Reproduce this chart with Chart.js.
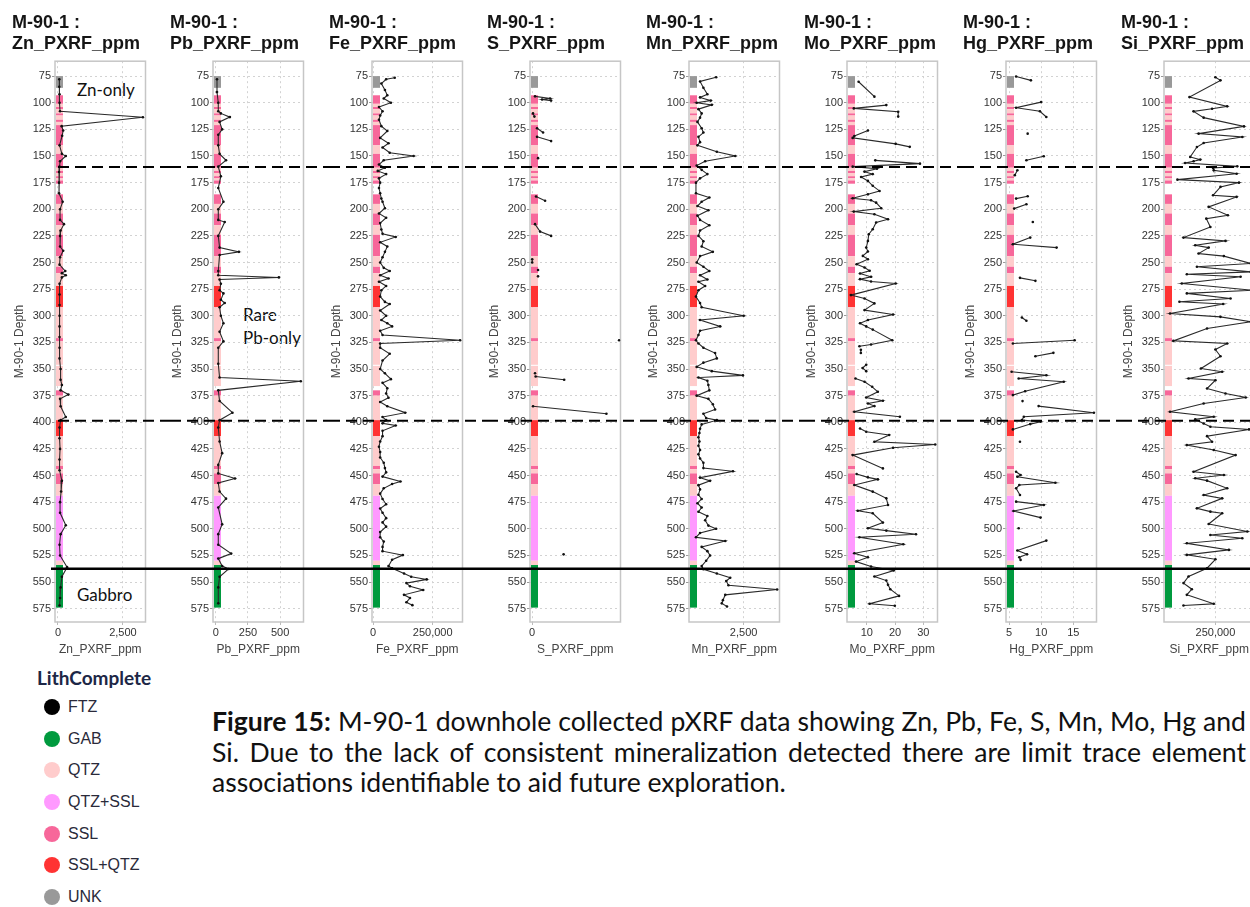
<!DOCTYPE html>
<html>
<head>
<meta charset="utf-8">
<script src="https://cdn.jsdelivr.net/npm/chart.js@4.4.1/dist/chart.umd.min.js"></script>
<style>
html,body{margin:0;padding:0;background:#fff;}
body{width:1250px;height:907px;overflow:hidden;position:relative;}
canvas.panel{position:absolute;top:0;}
.note{position:absolute;font-family:Lato,"Open Sans",sans-serif;font-size:17px;color:#111;line-height:20px;white-space:nowrap;}
#legendTitle{position:absolute;left:37px;top:666px;font-family:Lato,sans-serif;font-weight:bold;font-size:19px;color:#1d2746;line-height:24px;}
#legendRows{position:absolute;left:44px;top:691px;}
.lrow{height:31.7px;display:flex;align-items:center;font-family:"Liberation Sans",Arial,sans-serif;font-size:16px;color:#2a2a3a;}
.ldot{width:16px;height:16px;border-radius:50%;margin-right:8px;}
#caption{position:absolute;left:212px;top:706px;width:1034px;font-family:Lato,sans-serif;color:#111;font-size:20px;}
.cl{height:30.5px;line-height:30.5px;}
.cj{text-align:justify;text-align-last:justify;}
.probe{display:inline-block;white-space:nowrap;}
</style>
</head>
<body>
<div class="note" style="left:77px;top:80px;">Zn-only</div>
<div class="note" style="left:243px;top:305px;">Rare</div>
<div class="note" style="left:243px;top:328px;">Pb-only</div>
<div class="note" style="left:77px;top:585px;">Gabbro</div>
<div id="legendTitle">LithComplete</div>
<div id="legendRows"></div>
<div id="caption">
  <div class="cl cj"><span class="probe"><b>Figure 15:</b> M-90-1 downhole collected pXRF data showing Zn, Pb, Fe, S, Mn, Mo, Hg and</span></div>
  <div class="cl cj"><span class="probe">Si. Due to the lack of consistent mineralization detected there are limit trace element</span></div>
  <div class="cl"><span class="probe">associations identifiable to aid future exploration.</span></div>
</div>
<script>
// ---------------- DATA ----------------
const wellName = 'M-90-1';
const depthTicks = [75,100,125,150,175,200,225,250,275,300,325,350,375,400,425,450,475,500,525,550,575];

const znDepth = [78,85,92,100,108,113.6,122,126,131,140,
 148,150,155,160,165,175,185,193,200,210,
 214,220,225,235,239,245,252,258,260,262,
 264,270,280,290,300,310,320,330,340,350,
 360,365,370,374,378,385,395,398,405,415,
 425,435,445,455,465,475,485,496.6,505,515,
 525,536,545,555,565,572];
const znValue = [50,50,60,60,80,3270,140,200,160,60,
 150,300,80,60,40,40,40,180,80,80,
 230,100,80,80,200,80,60,280,150,300,
 150,60,60,60,60,60,60,60,60,100,
 100,150,100,400,80,100,300,100,60,60,
 80,60,60,150,120,80,80,300,100,60,
 80,350,150,100,80,60];

const pbDepth = [78,90,100,108,110,113.5,118,125,130,140,
 148,154,160,169,180,193,200,210,212,225,
 236,240,243,258,262,264,266,270,276,279,
 285,288,292,300,307,315,324,330,345,358,
 361.5,370,380,391,398,405,418,429,440,448,
 452.8,457,465,471.7,480,495.8,505,515,523.3,528,
 535,537.7,545,555,570];
const pbValue = [10,10,20,20,40,110,30,50,20,20,
 30,80,20,40,20,60,20,20,70,20,
 30,180,30,20,20,490,30,40,30,60,
 40,70,30,40,60,30,60,20,20,30,
 660,20,30,130,30,20,30,50,20,20,
 150,20,30,80,20,50,20,20,120,20,
 50,100,30,20,20];

const feDepth = [76.5,78,82,88,93,96,100,104,108,112,
 116,122,126.5,133,138,142,147,150,154,158,
 161,164,167,171,175,180,185,190,193,199,
 204,208,213,219,223,226,231,235,240,245,
 250,255,258,262,265,268,272,276,282,287,
 289,295,300,304,307,310,314,318,323,326,
 330,335.7,342,350,354,359.5,363,368,373,377,
 381,385,391,395,398,401,403,408,413,418,
 423,428,433,438,443,447,451,455.6,458,462,
 467,472,477,481,485,490,494,498,503,508,
 512,517,521,524.7,529,535,537,542,545,547.5,
 551,554,557.5,562,565,569,571.7];
const feValue = [91000,55000,35000,50000,60000,45000,75000,25000,40000,30000,
 25000,35000,60000,30000,65000,40000,70000,170000,45000,25000,
 50000,20000,55000,25000,30000,25000,30000,35000,40000,50000,
 25000,55000,30000,35000,40000,95000,30000,60000,50000,40000,
 30000,45000,70000,30000,65000,25000,55000,35000,30000,50000,
 70000,30000,55000,35000,60000,80000,30000,40000,365000,30000,
 30000,70000,40000,30000,50000,75000,40000,60000,55000,65000,
 30000,60000,135000,40000,55000,40000,95000,40000,40000,30000,
 25000,30000,30000,45000,50000,55000,40000,115000,80000,45000,
 30000,40000,55000,30000,40000,55000,40000,55000,30000,30000,
 45000,40000,40000,125000,80000,65000,80000,130000,160000,225000,
 140000,155000,210000,130000,155000,140000,165000];

const sDepth = [94,96,97,98,99, 110,113,114, 124,128,129, 132,136,137, 152,153,
 188,192,193, 214,221,225,226, 247,250,251, 257,258, 263,264, 323,324,
 354,355, 357,360,361, 385,392,393, 524];
const sValue = [1500,9000,5000,9500,null, 500,1200,null, 2500,5500,null, 2500,9500,null, 3000,null,
 2000,6500,null, 1500,4000,9500,null, 100,100,null, 3000,null, 3000,null, 43300,null,
 1500,null, 1800,16000,null, 500,37000,null, 15700];

const mnDepth = [76,80,86,92,95,98,100,102,106,110,
 114,118,124,128,132,137,140,146,150,155,
 159,163,167,171,175,185,189,193,197,201,
 206,210,215,220,225,230,235,240,244,250,
 254,258,262,266,268,272,276,282,288,292,
 300,304,310,314,318,323,326,330,335,340,
 344,348,352,356,358,361,365,370,375,378,
 383,388,392,396,398,402,406,410,414,418,
 422,426,430,434,438,443,446,452,455,459,
 463,468,472,476,480,484,488,492,497,500,
 504,508,511.4,517,521,525,530,535,538,542,
 546,549,553,557,562,567,570,573];
const mnValue = [1394,745,880,1040,745,1177,610,1218,680,810,
 745,640,810,880,680,745,640,1420,2163,950,
 610,810,1040,745,580,580,1120,810,640,1080,
 640,745,1120,745,680,880,810,1260,745,610,
 880,1120,745,1040,680,950,680,580,745,810,
 2500,745,1555,745,680,580,680,880,1350,1420,
 880,610,1218,2474,680,1040,1080,1120,610,1080,
 1260,1350,880,990,1420,810,745,720,680,720,
 680,745,680,745,880,880,2070,745,1150,680,
 745,680,810,640,810,680,1040,950,1080,1390,
 745,580,1760,810,1040,1150,990,810,880,1420,
 1960,1800,1890,3850,1760,1665,1620,1830];

const moDepth = [80.3,94.3,98,
 102.2,105.3,108.4,113,120,
 126,131.3,133,138.6,141.4,148,
 154.1,157.2,160,161.9,164.7,167,169.7,173.4,178,182.8,
 186,189.7,191.6,193.8,199,202.2,204.7,209.4,212.5,218.8,
 223.4,229.7,236,239.7,243.8,246.9,251.6,254.7,257.8,260.3,
 263.4,265.6,267.8,269.7,280.6,283.8,288.4,294.7,298.8,304,
 307,310,313,323,327,328.6,330,
 332,335,340,
 346,349,352,355,
 358.9,362,366.7,371.4,376.7,379.8,382.3,384.8,390.1,394.8,400,
 405.8,408.9,412,418.3,420.8,423.9,430.8,443.3,446,
 448.6,451.7,453.6,458.9,465.1,471.4,477.6,483,485.4,494.2,
 499.5,501.7,505.1,508,514.5,523,526.7,530.8,535.4,539.2,
 544.8,548.6,552.6,556.7,563,570.4,572.3];
const moValue = [7.1,12.7,null,
 16.9,5.4,21.1,21.1,null,
 10.4,5.6,5.0,20.2,25.2,null,
 13.0,28.8,5.0,13.6,9.2,12.1,8.0,10.4,12.1,14.5,
 10.4,5.0,11.5,13.3,15.1,5.4,12.7,17.5,13.3,12.1,
 10.7,10.4,9.8,10.4,8.6,10.4,6.4,9.2,11,7.6,
 11.5,7.6,11.5,20.2,4.4,9.2,12.7,9.2,19.3,10.4,
 7.6,9.8,12.1,19.0,11.5,7.4,null,
 7.9,7.9,null,
 9.8,8.5,9.8,null,
 6.0,9.2,11.9,13.9,9.8,15.7,10.4,12.7,5.6,21.7,null,
 7.6,9.8,17.9,12.7,34.2,19.3,5.0,15.7,null,
 6.4,10.4,13.9,5.6,12.1,16.9,17.5,6.8,12.1,15.7,
 10.4,16.9,27.4,7.4,22.9,5.6,10.4,6.2,11.5,19.5,
 12.7,16.9,17.5,18.3,21.4,11,19.9];

const hgDepth = [75.3,79,82,
 99.4,104.7,108,113.4,118,
 129,131,
 150.3,154,157,
 163.4,168,172,
 187.8,190,192,
 195.3,199.4,205,
 211.9,215,
 226.6,232.8,236,240,
 264.4,267.2,270,
 301.6,304.7,310,
 323,326,330,
 334.8,338,342,
 352.6,355.8,358.9,362,370.8,374.5,377,
 380.1,382,
 384.8,391.1,394.8,398,399.5,401.7,406.7,410,
 418.3,422,
 446.4,449.5,451.1,456.7,458.9,462,468.3,472,
 474.5,477.6,483.3,489.5,494,
 499.5,503,
 511.1,520.4,523.9,526.7,529.2];
const hgValue = [6.1,8.4,null,
 10,6.1,9.8,10.8,null,
 7.9,null,
 10.4,7.7,null,
 6.3,5.9,null,
 7.9,6.1,null,
 7.7,5.8,null,
 8.7,null,
 8.3,5.6,12.4,null,
 6.7,9.1,null,
 7,7.7,null,
 15.2,5.6,null,
 11.9,9.1,null,
 5.4,10.8,6.5,13.5,7.5,5.6,null,
 7.1,null,
 9.6,18.2,7.3,7.0,9.9,8.3,5.6,null,
 6.7,null,
 6.1,6.8,6.3,12.2,6.6,6.1,6.7,null,
 6.1,10.4,5.7,9.9,null,
 6.5,null,
 10.8,6.3,7.8,6.6,6.8];

const siDepth = [76,79,94.7,103.4,105.6,108.1,114,122.2,129,132.2,
 137.8,141.6,150.9,153.4,155,156.6,159.7,161.3,163.4,166.6,
 172.2,175,179,186.9,188.4,197.8,205.6,208.8,216.6,226.6,
 229.7,233.8,236,241.6,244,250.9,254,258.8,261,263.4,
 269.7,276,279,283.8,286.9,289,297.8,301,305.6,312,
 323.6,326,331.7,338,349.5,352.6,358.9,360.5,368.3,373,
 376.7,382.3,390.1,394.8,397.3,401.1,404.2,406.7,413,418.3,
 421.4,426,430.8,446.4,449.5,452.6,454.8,462,468.3,471.4,
 480.8,483.9,485.4,495.5,502.6,505.8,508.9,513.6,519.8,524.5,
 528.6,537,544.8,551,556.7,562,570.4,572];
const siValue = [250000,259800,199600,272900,243500,207500,227100,305600,217300,302300,
 227100,214000,201000,220600,207500,191100,292500,245400,246700,291200,
 176100,295800,259800,245400,291200,236900,274200,232300,240200,187900,
 269600,210800,236900,217300,266400,318700,214000,318700,194400,299000,
 184600,322000,194400,279400,180000,265000,161700,259800,318700,233700,
 168200,272900,250000,259800,221900,263100,197700,250000,233700,269600,
 308900,227100,161700,246700,210800,227100,240200,315400,233700,243500,
 194400,246700,289200,207500,266400,210800,233700,272900,227100,263100,
 214000,240200,263100,236900,312100,240200,302300,194400,276200,194400,
 250000,233700,197700,187900,204200,194400,246700,187900];

// Lithology intervals (top depth, bottom depth, code)
const lithTop    = [75,93,101,104,106,110,112,116,118,121,140,148,161,164,166,169,171,173,186,195,204,215,224,244,254,260,272,292,321,324,347,370,375,398,413,441,444,448,458,469,530,534];
const lithBottom = [86,101,104,106,110,112,116,118,121,140,148,161,164,166,169,171,173,176,195,204,215,224,244,254,260,272,292,321,324,346,366,375,398,413,441,444,448,458,469,530,534,574];
const lithCode   = ['UNK','SSL','QTZ','SSL','QTZ','SSL','QTZ','SSL','QTZ','SSL','QTZ','SSL','QTZ','SSL','QTZ','SSL','QTZ','SSL','SSL','QTZ','SSL','QTZ','SSL','QTZ','SSL','QTZ','SSL+QTZ','QTZ','SSL','QTZ','QTZ','SSL','QTZ','SSL+QTZ','QTZ','SSL','QTZ','SSL','QTZ','QTZ+SSL','QTZ','GAB'];

const lithNames  = ['FTZ','GAB','QTZ','QTZ+SSL','SSL','SSL+QTZ','UNK'];
const lithColors = ['#000000','#009a3e','#ffcccc','#ff99ff','#f7679a','#ff3333','#999999'];

// Marker depths (dashed, dashed, solid)
const refDepths = [160.4, 398.6, 537.5];
const refKinds  = ['dash','dash','solid'];

const elements = ['Zn','Pb','Fe','S','Mn','Mo','Hg','Si'];
const seriesDepth = [znDepth,pbDepth,feDepth,sDepth,mnDepth,moDepth,hgDepth,siDepth];
const seriesValue = [znValue,pbValue,feValue,sValue,mnValue,moValue,hgValue,siValue];
const axisMin  = [-115,-21,-4200,-1000,300,3,4.53,150000];
const axisMax  = [3370,681,375000,44000,3944,35,18.6,326000];
const xTicks   = [[0,2500],[0,250,500],[0,250000],[0],[2500],[10,20,30],[5,10,15],[250000]];

// ---------------- DRAWING ----------------
const FONT = '"Liberation Sans", Arial, sans-serif';
Chart.defaults.font.family = FONT;

const framePlugin = {
  id: 'frame',
  beforeDatasetsDraw(chart) {
    const {ctx, chartArea: a, scales: {y}} = chart;
    ctx.save();
    ctx.strokeStyle = '#c6c6c6';
    ctx.lineWidth = 1.5;
    ctx.strokeRect(a.left, a.top, a.right - a.left, a.bottom - a.top);
    lithTop.forEach((t, k) => {
      const y1 = y.getPixelForValue(t), y2 = y.getPixelForValue(lithBottom[k]);
      ctx.fillStyle = lithColors[lithNames.indexOf(lithCode[k])];
      ctx.fillRect(a.left + 1, y1, 7, y2 - y1);
    });
    ctx.restore();
  }
};

const refPlugin = {
  id: 'refLines',
  afterDraw(chart, args, opts) {
    const {ctx, chartArea: a, scales: {y}} = chart;
    refDepths.forEach((d, k) => {
      const py = y.getPixelForValue(d);
      const solid = refKinds[k] === 'solid';
      const x0 = opts.first ? a.left + (solid ? -4 : 3) : 0;
      ctx.save();
      ctx.strokeStyle = '#000';
      ctx.lineWidth = solid ? 2.4 : 2;
      ctx.setLineDash(solid ? [] : [11, 6]);
      ctx.beginPath();
      ctx.moveTo(x0, py);
      ctx.lineTo(chart.width, py);
      ctx.stroke();
      ctx.restore();
    });
  }
};

const AXIS_W = 43, BOX_W = 90.5, CANVAS_H = 660;
elements.forEach((el, i) => {
  const left = Math.round(12 + 158.47 * i);
  const nextLeft = i < elements.length - 1 ? Math.round(12 + 158.47 * (i + 1)) : left + 160;
  const width = nextLeft - left;
  const cv = document.createElement('canvas');
  cv.className = 'panel';
  cv.width = width; cv.height = CANVAS_H;
  cv.style.left = left + 'px';
  cv.style.width = width + 'px'; cv.style.height = CANVAS_H + 'px';
  document.body.appendChild(cv);
  const label = el + '_PXRF_ppm';
  const pts = seriesDepth[i].map((d, k) => ({x: seriesValue[i][k], y: d}));
  new Chart(cv.getContext('2d'), {
    type: 'scatter',
    data: {datasets: [{
      data: pts, showLine: true, spanGaps: false,
      borderColor: '#2a2a2a', borderWidth: 1.1,
      pointRadius: 1.3, pointBorderWidth: 0, pointBackgroundColor: '#111'
    }]},
    options: {
      responsive: false, animation: false, devicePixelRatio: 1,
      events: [],
      layout: {padding: {left: 0, right: width - AXIS_W - BOX_W, top: 0, bottom: 0}},
      plugins: {
        legend: {display: false}, tooltip: {enabled: false},
        title: {display: true, text: [wellName + ' :', label], align: 'start',
          color: '#151515', font: {family: FONT, size: 18, weight: 'bold', lineHeight: 1.2},
          padding: {top: 12, bottom: 6}},
        refLines: {first: i === 0}
      },
      scales: {
        x: {
          type: 'linear', position: 'bottom',
          min: axisMin[i], max: axisMax[i],
          afterFit(s) { s.height = 38; },
          afterBuildTicks(s) { s.ticks = xTicks[i].map(v => ({value: v})); },
          ticks: {autoSkip: false, maxRotation: 0,
            callback: v => v.toLocaleString('en-US'),
            font: {size: 11}, color: '#333', padding: 1},
          grid: {color: '#d2d2d2', tickLength: 3, tickColor: '#bbb', tickBorderDash: []},
          border: {display: false, dash: [2, 3]},
          title: {display: true, text: label, color: '#444', font: {size: 12}, padding: {top: 0, bottom: 3}}
        },
        y: {
          type: 'linear', reverse: true, min: 61, max: 587.5,
          afterFit(s) { s.width = AXIS_W; },
          afterBuildTicks(s) { s.ticks = depthTicks.map(v => ({value: v})); },
          ticks: {autoSkip: false, font: {size: 11}, color: '#333', padding: 1},
          grid: {color: '#d2d2d2', tickLength: 3, tickColor: '#999', tickBorderDash: []},
          border: {display: false, dash: [2, 3]},
          title: {display: true, text: wellName + ' Depth', color: '#444', font: {size: 12}, padding: {top: 0, bottom: 0}}
        }
      }
    },
    plugins: [framePlugin, refPlugin]
  });
});

// Legend
const rows = document.getElementById('legendRows');
lithNames.forEach((n, k) => {
  const r = document.createElement('div');
  r.className = 'lrow';
  const dot = document.createElement('span');
  dot.className = 'ldot';
  dot.style.background = lithColors[k];
  const t = document.createElement('span');
  t.textContent = n;
  r.appendChild(dot); r.appendChild(t);
  rows.appendChild(r);
});

// Caption font sizing: widest justified line fits 1030px, last line about 597px
(function(){
  const cap = document.getElementById('caption');
  const probes = cap.querySelectorAll('.probe');
  const w = Array.from(probes).map(p => p.getBoundingClientRect().width);
  const f = Math.min(1030 / w[0], 1030 / w[1], 597 / w[2]);
  cap.style.fontSize = (20 * f).toFixed(2) + 'px';
  probes.forEach(p => { p.style.display = 'inline'; p.style.whiteSpace = 'normal'; });
})();
</script>
</body>
</html>
